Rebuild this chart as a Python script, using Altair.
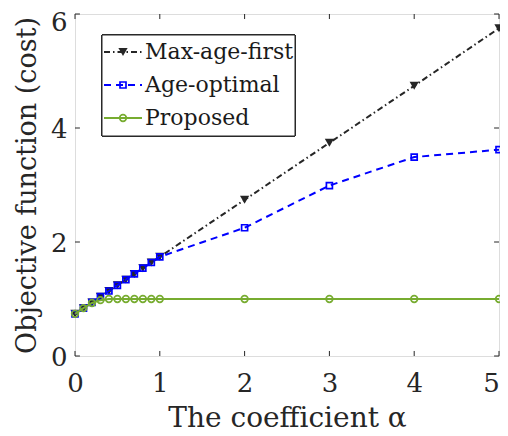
import altair as alt
import pandas as pd

# ---- data ----
alpha = [0, 0.1, 0.2, 0.3, 0.4, 0.5, 0.6, 0.7, 0.8, 0.9, 1, 2, 3, 4, 5]
max_age_first = [0.74, 0.84, 0.94, 1.04, 1.14, 1.24, 1.34, 1.44, 1.54, 1.64, 1.74, 2.74, 3.74, 4.74, 5.75]
age_optimal = [0.74, 0.84, 0.94, 1.04, 1.14, 1.24, 1.34, 1.44, 1.54, 1.64, 1.74, 2.25, 2.99, 3.49, 3.62]
proposed = [0.74, 0.84, 0.93, 0.98, 1.0, 1.0, 1.0, 1.0, 1.0, 1.0, 1.0, 1.0, 1.0, 1.0, 1.0]

series_names = ["Max-age-first", "Age-optimal", "Proposed"]
series_values = [max_age_first, age_optimal, proposed]
colors = ["#262626", "#0000FF", "#77AC30"]
x_ticks = [0, 1, 2, 3, 4, 5]
y_ticks = [0, 2, 4, 6]
x_title = "The coefficient α"
y_title = "Objective function (cost)"

W, H = 424, 342
FONT = "DejaVu Serif"

rows = []
for name, vals in zip(series_names, series_values):
    for a, v in zip(alpha, vals):
        rows.append({"alpha": a, "value": v, "series": name})
df = pd.DataFrame(rows)

xs = alt.Scale(domain=[0, 5], nice=False, zero=False)
ys = alt.Scale(domain=[0, 6], nice=False, zero=False)

X = alt.X("alpha:Q", scale=xs,
          axis=alt.Axis(values=x_ticks, title=x_title, ticks=False, domain=False, grid=False,
                        labelFlush=False, labelOverlap=False,
                        labelOffset={"condition": {"test": "datum.value == 5", "value": -8}, "value": 0},
                        labelFont=FONT, labelFontSize=26, labelColor="#262626", labelPadding=14,
                        titleFont=FONT, titleFontSize=28, titleFontWeight="normal", titleColor="#262626",
                        titlePadding=8, format="d"))
Y = alt.Y("value:Q", scale=ys,
          axis=alt.Axis(values=y_ticks, title=y_title, ticks=False, domain=False, grid=False,
                        labelFlush=False, labelOverlap=False,
                        labelOffset={"condition": {"test": "datum.value == 6", "value": 8}, "value": 1},
                        labelFont=FONT, labelFontSize=26, labelColor="#262626", labelPadding=8,
                        titleFont=FONT, titleFontSize=27, titleFontWeight="normal", titleColor="#262626",
                        titlePadding=9, format="d"))

styles = {
    "Max-age-first": dict(line=dict(strokeDash=[6, 3, 1.5, 3], strokeWidth=2.0),
                          point=dict(shape="triangle-down", filled=True, size=85, strokeWidth=1)),
    "Age-optimal": dict(line=dict(strokeDash=[7, 5], strokeWidth=2.0),
                        point=dict(shape="square", filled=False, size=36, strokeWidth=1.7)),
    "Proposed": dict(line=dict(strokeWidth=2.0),
                     point=dict(shape="circle", filled=False, size=44, strokeWidth=1.7)),
}

layers = []
for name, col in zip(series_names, colors):
    sub = alt.Chart(df).transform_filter(alt.datum.series == name)
    st = styles[name]
    layers.append(sub.mark_line(color=col, **st["line"]).encode(x=X, y=Y))
    layers.append(sub.mark_point(color=col, opacity=1, **st["point"]).encode(x=X, y=Y))

# inward ticks on all four sides (box on)
tx = pd.DataFrame({"t": x_ticks})
ty = pd.DataFrame({"t": y_ticks})
tick_col = "#262626"
dy = 0.088
dx = 0.058
layers.append(alt.Chart(tx).mark_rule(color=tick_col, strokeWidth=1).encode(
    x=alt.X("t:Q", scale=xs), y=alt.datum(0), y2=alt.datum(dy)))
layers.append(alt.Chart(tx).mark_rule(color=tick_col, strokeWidth=1).encode(
    x=alt.X("t:Q", scale=xs), y=alt.datum(6), y2=alt.datum(6 - dy)))
layers.append(alt.Chart(ty).mark_rule(color=tick_col, strokeWidth=1).encode(
    y=alt.Y("t:Q", scale=ys), x=alt.datum(0), x2=alt.datum(dx)))
layers.append(alt.Chart(ty).mark_rule(color=tick_col, strokeWidth=1).encode(
    y=alt.Y("t:Q", scale=ys), x=alt.datum(5), x2=alt.datum(5 - dx)))

# legend box
leg_x0, leg_x1, leg_y0, leg_y1 = 27, 220, 21, 122
layers.append(alt.Chart(tx).mark_rect(fill="white", stroke="#262626", strokeWidth=1).encode(
    x=alt.value(leg_x0), x2=alt.value(leg_x1), y=alt.value(leg_y0), y2=alt.value(leg_y1)))
row_y = [38, 71, 104]
for name, col, ry in zip(series_names, colors, row_y):
    st = styles[name]
    one = alt.Chart(pd.DataFrame({"label": [name]}))
    layers.append(one.mark_rule(color=col, **st["line"]).encode(
        x=alt.value(29), x2=alt.value(67), y=alt.value(ry)))
    layers.append(one.mark_point(color=col, opacity=1, **st["point"]).encode(
        x=alt.value(48), y=alt.value(ry)))
    layers.append(one.mark_text(font=FONT, fontSize=22, align="left", baseline="middle",
                                color="#1a1a1a").encode(
        x=alt.value(70), y=alt.value(ry), text="label:N"))

chart = alt.layer(*layers).properties(
    width=W, height=H,
    autosize=alt.AutoSizeParams(type="none"),
    padding={"left": 67, "top": 6, "right": 1, "bottom": 80},
).configure_view(stroke="#262626", strokeWidth=1).configure(background="white")

chart.save("out.html", embed_options={"renderer": "svg", "actions": False})
